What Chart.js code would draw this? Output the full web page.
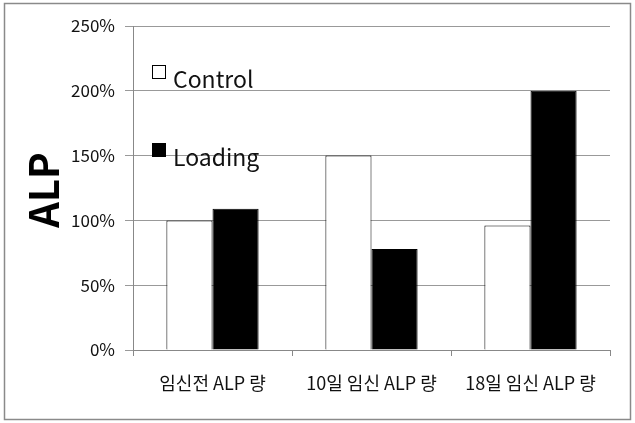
<!DOCTYPE html>
<html>
<head>
<meta charset="utf-8">
<script src="https://cdn.jsdelivr.net/npm/chart.js@4"></script>
<style>
  html, body { margin: 0; padding: 0; background: #fff; }
  #wrap { width: 635px; height: 423px; }
</style>
</head>
<body>
<div id="wrap"><canvas id="c" width="635" height="423"></canvas></div>
<script>
const categories = ['임신전 ALP 량', '10일 임신 ALP 량', '18일 임신 ALP 량'];
const controlValues = [100, 150, 96];
const loadingValues = [109, 78, 200];
const seriesNames = ['Control', 'Loading'];
const yTicks = [0, 50, 100, 150, 200, 250];
const yAxisTitle = 'ALP';

const FONT = "'Noto Sans CJK KR', 'DejaVu Sans', sans-serif";

// Gray frame around the whole figure
const framePlugin = {
  id: 'frame',
  beforeDraw(chart) {
    const ctx = chart.ctx;
    ctx.save();
    ctx.fillStyle = '#fff';
    ctx.fillRect(0, 0, chart.width, chart.height);
    ctx.strokeStyle = '#8a8a8a';
    ctx.lineWidth = 1.5;
    ctx.strokeRect(4.5, 3.5, 626, 416);
    ctx.restore();
  }
};

// Rotated bold axis title at the left
const yTitlePlugin = {
  id: 'yTitle',
  afterDraw(chart) {
    const ctx = chart.ctx;
    const area = chart.chartArea;
    ctx.save();
    ctx.translate(44, (area.top + area.bottom) / 2 + 2);
    ctx.rotate(-Math.PI / 2);
    ctx.fillStyle = '#000';
    ctx.font = 'bold 40px ' + FONT;
    ctx.textAlign = 'center';
    ctx.textBaseline = 'middle';
    ctx.fillText(yAxisTitle, 0, 0);
    ctx.restore();
  }
};

// Legend drawn inside the plot area, one entry per row
const innerLegend = {
  id: 'innerLegend',
  afterDraw(chart) {
    const ctx = chart.ctx;
    const area = chart.chartArea;
    const x = area.left + 19;
    const rows = [area.top + 39, area.top + 117];
    ctx.save();
    chart.data.datasets.forEach((ds, i) => {
      const y = rows[i];
      ctx.fillStyle = ds.backgroundColor;
      ctx.fillRect(x, y, 14, 14);
      ctx.strokeStyle = '#000';
      ctx.lineWidth = 1;
      ctx.strokeRect(x + 0.5, y + 0.5, 13, 13);
      ctx.fillStyle = '#111';
      ctx.font = '23px ' + FONT;
      ctx.textBaseline = 'alphabetic';
      ctx.fillText(ds.label, x + 21, y + 23);
    });
    ctx.restore();
  }
};

new Chart(document.getElementById('c'), {
  type: 'bar',
  data: {
    labels: categories,
    datasets: [
      { label: seriesNames[0], data: controlValues, backgroundColor: '#ffffff', borderColor: '#000', borderWidth: 1 },
      { label: seriesNames[1], data: loadingValues, backgroundColor: '#000000', borderColor: '#000', borderWidth: 1 }
    ]
  },
  options: {
    responsive: false,
    animation: false,
    devicePixelRatio: 1,
    layout: { padding: { left: 0, right: 25, top: 26, bottom: 0 } },
    plugins: { legend: { display: false }, tooltip: { enabled: false } },
    datasets: { bar: { categoryPercentage: 0.58, barPercentage: 1.0 } },
    scales: {
      x: {
        afterFit(scale) { scale.height = 73; },
        grid: { offset: true, drawOnChartArea: false, drawTicks: true, tickLength: 6, color: '#888' },
        border: { color: '#888' },
        ticks: { color: '#111', font: { family: FONT, size: 18 }, padding: 16 }
      },
      y: {
        min: 0,
        max: 250,
        afterBuildTicks(scale) { scale.ticks = yTicks.map(v => ({ value: v })); },
        afterFit(scale) { scale.width = 133; },
        grid: { color: '#999', tickLength: 8 },
        border: { color: '#888' },
        ticks: { color: '#111', font: { family: FONT, size: 17 }, padding: 10, callback: v => v + '%' }
      }
    }
  },
  plugins: [framePlugin, yTitlePlugin, innerLegend]
});
</script>
</body>
</html>
